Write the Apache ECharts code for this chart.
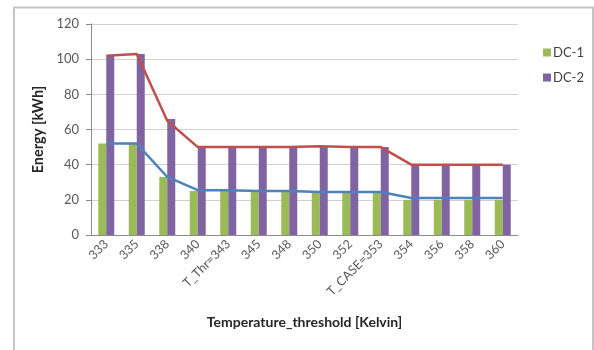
<!DOCTYPE html>
<html>
<head>
<meta charset="utf-8">
<script src="https://cdn.jsdelivr.net/npm/echarts@6/dist/echarts.min.js"></script>
<style>html,body{margin:0;padding:0;background:#fff}#c{width:594px;height:350px}</style>
</head>
<body>
<div id="c"></div>
<script>
var categories = ['333','335','338','340','T_Thr=343','345','348','350','352','T_CASE=353','354','356','358','360'];
var dc1 = [52,52,33,25,25,25,25,25,25,25,20,20,20,20];
var dc2 = [102,103,66,50,50,50,50,50,50,50,40,40,40,40];
var dc1Trend = [52,52,33,25.5,25.5,25,25,24.5,24.5,24.5,21,21,21,21];
var dc2Trend = [102,103,65,50,50,50,50,50.5,50,50,40,40,40,40];
var yTicks = [0,20,40,60,80,100,120];

var chart = echarts.init(document.getElementById('c'));
var font = 'Lato, "Open Sans", sans-serif';
chart.setOption({
  animation: false,
  textStyle: {fontFamily: font},
  graphic: [{
    type: 'rect', silent: true,
    shape: {x: 14, y: 7.5, width: 579, height: 360},
    style: {fill: 'none', stroke: '#c4c4c4', lineWidth: 2}
  }],
  grid: {left: 91, right: 76, top: 24, bottom: 115},
  legend: {
    data: ['DC-1','DC-2'], orient: 'vertical', left: 538, top: 41,
    itemWidth: 8, itemHeight: 8, itemGap: 12, icon: 'rect',
    textStyle: {fontSize: 13, color: '#404040', fontFamily: font, padding: [0,0,0,-3]}
  },
  xAxis: {
    type: 'category', data: categories,
    name: 'Temperature_threshold [Kelvin]', nameLocation: 'middle', nameGap: 80,
    nameTextStyle: {fontWeight: 'bold', fontSize: 14, color: '#262626', fontFamily: font},
    axisLine: {lineStyle: {color: '#8c8c8c'}},
    axisTick: {length: 5, lineStyle: {color: '#8c8c8c'}},
    axisLabel: {rotate: 45, fontSize: 12.5, color: '#595959', margin: 7, interval: 0}
  },
  yAxis: {
    type: 'value', min: yTicks[0], max: yTicks[yTicks.length-1], interval: 20,
    name: 'Energy [kWh]', nameLocation: 'middle', nameGap: 35,
    nameTextStyle: {fontWeight: 'bold', fontSize: 14.5, color: '#262626', fontFamily: font},
    axisLine: {show: true, lineStyle: {color: '#8c8c8c'}},
    axisTick: {show: true, length: 5, lineStyle: {color: '#8c8c8c'}},
    axisLabel: {fontSize: 13, color: '#595959', margin: 12},
    splitLine: {lineStyle: {color: '#d0d0d0'}}
  },
  series: [
    {name: 'DC-1', type: 'bar', data: dc1, barWidth: 8, barGap: '0%', itemStyle: {color: '#9BBB59'}},
    {name: 'DC-2', type: 'bar', data: dc2, barWidth: 8, barGap: '0%', itemStyle: {color: '#8064A2'}},
    {name: 'DC-1 trend', type: 'line', data: dc1Trend, showSymbol: false, lineStyle: {color: '#4F81BD', width: 2.5}, itemStyle: {color: '#4F81BD'}, z: 5},
    {name: 'DC-2 trend', type: 'line', data: dc2Trend, showSymbol: false, lineStyle: {color: '#C0504D', width: 2.5}, itemStyle: {color: '#C0504D'}, z: 5}
  ]
});
</script>
</body>
</html>
